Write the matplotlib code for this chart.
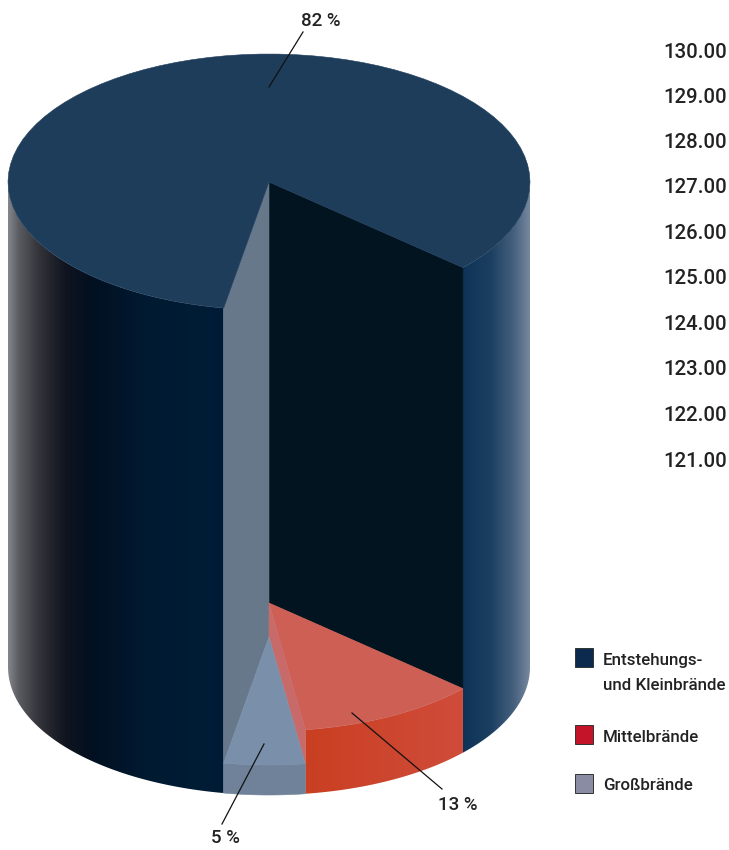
# -*-coding:utf-8-*-
import numpy as np
import matplotlib
matplotlib.use("Agg")
import matplotlib.pyplot as plt
from matplotlib.colors import LinearSegmentedColormap
from matplotlib.patches import Polygon, Rectangle

plt.rcParams['font.family'] = ['Roboto', 'DejaVu Sans']

# Anteile wie beschriftet
slice_labels = ["82 %", "13 %", "5 %"]
legend_labels = ["Entstehungs-\nund Kleinbrände", "Mittelbrände", "Großbrände"]
legend_colors = ["#0c2a4d", "#c4142a", "#8a8ca3"]
# Winkel und Hoehe der Stuecke (rot, grau, blau)
slice_angles = [40, 18, 302]
slice_heights = [64, 30, 485]
right_numbers = ["130.00", "129.00", "128.00", "127.00", "126.00",
                 "125.00", "124.00", "123.00", "122.00", "121.00"]

CX, A, B = 269, 261, 128
BOTTOM = 667
START = 42

fig = plt.figure(figsize=(7.29, 8.5), dpi=100)
ax = fig.add_axes([0, 0, 1, 1])


def arc(cy, t1, t2):
    t = np.radians(np.linspace(t1, t2, 80))
    return np.column_stack([CX + A * np.cos(t), cy + B * np.sin(t)])


def flat(points, color, z=2):
    ax.add_patch(Polygon(points, closed=True, fc=color, ec=color, lw=0.4, zorder=z))


def gradient(points, x0, x1, stops, z=2):
    # horizontaler Verlauf, auf die Flaeche zugeschnitten
    cmap = LinearSegmentedColormap.from_list("g", stops)
    ys = [p[1] for p in points]
    img = ax.imshow(np.linspace(0, 1, 256).reshape(1, -1), cmap=cmap, aspect="auto",
                    extent=[x0, x1, max(ys), min(ys)], zorder=z)
    patch = Polygon(points, closed=True, fc="none", ec="none", transform=ax.transData)
    ax.add_patch(patch)
    img.set_clip_path(patch)


red_end = START + slice_angles[0]
gray_end = red_end + slice_angles[1]
big_end = gray_end + slice_angles[2]
top_big = BOTTOM - slice_heights[2]
top_red = BOTTOM - slice_heights[0]
top_gray = BOTTOM - slice_heights[1]

# Aussenwand blau, links und rechts
left_wall = np.vstack([arc(top_big, gray_end, 180), arc(BOTTOM, 180, gray_end)])
gradient(left_wall, CX - A, arc(0, gray_end, gray_end)[0][0],
         [(0, "#85858c"), (0.05, "#5a5a61"), (0.14, "#34343b"), (0.26, "#10151f"),
          (0.38, "#031020"), (0.65, "#011a32"), (1, "#001c36")])
right_wall = np.vstack([arc(top_big, 0, START), arc(BOTTOM, START, 0)])
gradient(right_wall, arc(0, START, START)[0][0], CX + A,
         [(0, "#0f3357"), (0.4, "#1b3f60"), (0.75, "#46607e"), (1, "#7a8ba0")])

# Innenwaende
start_top = arc(top_big, START, START)[0]
start_red = arc(top_red, START, START)[0]
end_top = arc(top_big, gray_end, gray_end)[0]
end_gray = arc(top_gray, gray_end, gray_end)[0]
flat([(CX, top_big), start_top, start_red, (CX, top_red)], "#02141f")
flat([(CX, top_big), end_top, end_gray, (CX, top_gray)], "#67788a")

# rotes Stueck
red_side = np.vstack([arc(top_red, START, red_end), arc(BOTTOM, red_end, START)])
gradient(red_side, arc(0, red_end, red_end)[0][0], arc(0, START, START)[0][0],
         [(0, "#c93f22"), (1, "#d04c3a")], z=3)
flat(np.vstack([[(CX, top_red)], arc(top_red, START, red_end)]), "#cd5f55", z=3)
flat([(CX, top_red), arc(top_red, red_end, red_end)[0],
      arc(top_gray, red_end, red_end)[0], (CX, top_gray)], "#c96a6a", z=3)

# graues Stueck
flat(np.vstack([arc(top_gray, red_end, gray_end), arc(BOTTOM, gray_end, red_end)]),
     "#6f8299", z=4)
flat(np.vstack([[(CX, top_gray)], arc(top_gray, red_end, gray_end)]), "#7a90aa", z=4)

# Deckel
flat(np.vstack([[(CX, top_big)], arc(top_big, gray_end, big_end)]), "#1e3d5b", z=5)

# Fuehrungslinien und Beschriftung
leaders = [((303, 32), (269, 87)), ((352, 713), (442, 789)), ((264, 744), (222, 824))]
label_pos = [(321, 21), (458, 805), (225, 838)]
for (p, q), (tx, ty), s in zip(leaders, label_pos, slice_labels):
    ax.plot([p[0], q[0]], [p[1], q[1]], color="#111111", lw=0.9, zorder=6)
    ax.text(tx, ty, s, ha="center", va="center", fontsize=13.5, color="#222222",
            fontweight="medium", zorder=6)

# Zahlen rechts
number_y = [52, 97, 142, 187, 233, 278, 324, 369, 415, 461]
for y, s in zip(number_y, right_numbers):
    ax.text(727, y, s, ha="right", va="center", fontsize=14.7, color="#222222",
            fontweight="medium")

# Legende
legend_y = [(648, 661), (725, 737), (774, 786)]
for (box_y, text_y), s, c in zip(legend_y, legend_labels, legend_colors):
    ax.add_patch(Rectangle((575, box_y), 18, 19, fc=c, ec="#333333", lw=0.7))
    for i, line in enumerate(s.split("\n")):
        ax.text(603, text_y + i * 25, line, ha="left", va="center",
                fontsize=12.2, color="#222222", fontweight="medium")

ax.set_xlim(0, 729)
ax.set_ylim(850, 0)
ax.axis("off")
fig.savefig("out.png", dpi=100)
